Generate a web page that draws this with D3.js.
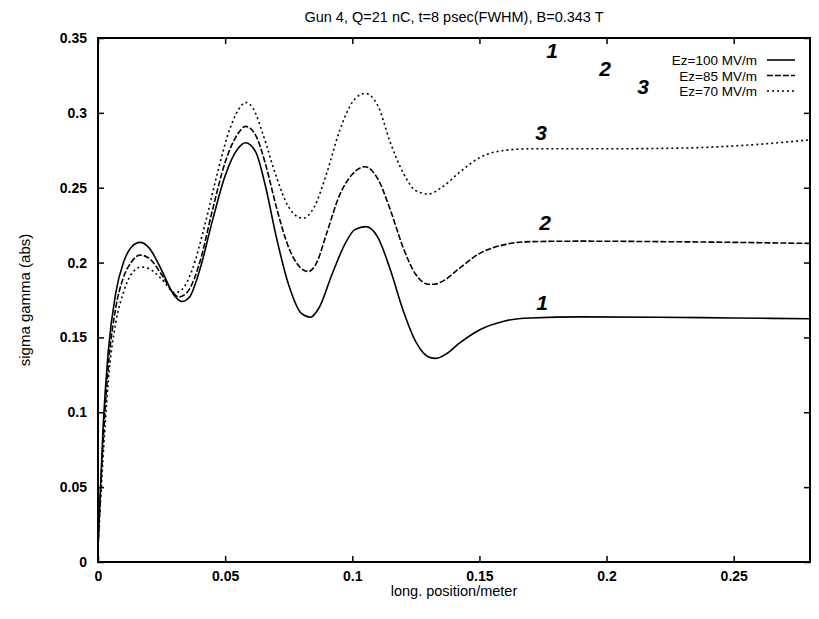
<!DOCTYPE html>
<html>
<head>
<meta charset="utf-8">
<script src="https://cdn.jsdelivr.net/npm/d3@7"></script>
<style>
  body { margin: 0; background: #fff; }
  text { font-family: "Liberation Sans", Arial, sans-serif; fill: #000; }
</style>
</head>
<body>
<div id="chart"></div>
<script>
// sigma gamma vs longitudinal position, three gradients
var xs100 = [0, 0.002, 0.004, 0.007, 0.01, 0.013, 0.0165, 0.02, 0.025, 0.03, 0.033, 0.036, 0.04, 0.045, 0.05, 0.055, 0.058, 0.062, 0.066, 0.07, 0.075, 0.08, 0.0835, 0.087, 0.092, 0.097, 0.101, 0.1055, 0.11, 0.115, 0.12, 0.125, 0.13, 0.133, 0.137, 0.142, 0.15, 0.16, 0.17, 0.19, 0.22, 0.25, 0.28];
var ys100 = [0.01, 0.09, 0.14, 0.18, 0.2, 0.21, 0.2135, 0.21, 0.195, 0.178, 0.174, 0.177, 0.195, 0.228, 0.258, 0.276, 0.28, 0.274, 0.25, 0.218, 0.185, 0.166, 0.1635, 0.17, 0.192, 0.212, 0.222, 0.224, 0.217, 0.195, 0.168, 0.147, 0.137, 0.136, 0.139, 0.146, 0.155, 0.161, 0.163, 0.1637, 0.1635, 0.163, 0.1625];

var xs85 = [0, 0.002, 0.004, 0.007, 0.01, 0.013, 0.0165, 0.02, 0.025, 0.03, 0.0316, 0.035, 0.04, 0.045, 0.05, 0.055, 0.058, 0.062, 0.066, 0.07, 0.075, 0.08, 0.0827, 0.086, 0.09, 0.095, 0.1, 0.105, 0.11, 0.115, 0.12, 0.125, 0.13, 0.132, 0.136, 0.142, 0.15, 0.16, 0.17, 0.19, 0.22, 0.25, 0.28];
var ys85 = [0.01, 0.08, 0.13, 0.17, 0.19, 0.2, 0.205, 0.203, 0.192, 0.179, 0.177, 0.18, 0.2, 0.235, 0.267, 0.286, 0.291, 0.285, 0.265, 0.238, 0.21, 0.196, 0.194, 0.2, 0.22, 0.245, 0.259, 0.264, 0.256, 0.235, 0.21, 0.192, 0.1855, 0.1855, 0.188, 0.196, 0.206, 0.212, 0.214, 0.2143, 0.214, 0.2135, 0.2128];

var xs70 = [0, 0.002, 0.004, 0.007, 0.01, 0.013, 0.017, 0.02, 0.025, 0.0303, 0.033, 0.037, 0.042, 0.047, 0.052, 0.056, 0.058, 0.061, 0.065, 0.07, 0.075, 0.0805, 0.085, 0.09, 0.095, 0.1, 0.105, 0.11, 0.115, 0.12, 0.125, 0.13, 0.135, 0.142, 0.15, 0.16, 0.17, 0.2, 0.23, 0.26, 0.28];
var ys70 = [0.01, 0.07, 0.12, 0.16, 0.18, 0.192, 0.197, 0.196, 0.189, 0.18, 0.182, 0.195, 0.225, 0.26, 0.29, 0.304, 0.307, 0.303, 0.285, 0.258, 0.237, 0.2296, 0.237, 0.26, 0.288, 0.307, 0.313, 0.305, 0.28, 0.26, 0.248, 0.2458, 0.25, 0.26, 0.27, 0.275, 0.276, 0.276, 0.2765, 0.279, 0.282];

var seriesNames = ["Ez=100 MV/m", "Ez=85 MV/m", "Ez=70 MV/m"];
var xTicks = [0, 0.05, 0.1, 0.15, 0.2, 0.25];
var yTicks = [0, 0.05, 0.1, 0.15, 0.2, 0.25, 0.3, 0.35];
var xTickLabels = ["0", "0.05", "0.1", "0.15", "0.2", "0.25"];
var yTickLabels = ["0", "0.05", "0.1", "0.15", "0.2", "0.25", "0.3", "0.35"];

var w = 819, h = 619;
var margin = {top: 38, right: 9, bottom: 57, left: 98};

var svg = d3.select("#chart").append("svg")
  .attr("width", w)
  .attr("height", h);

var x = d3.scaleLinear().domain([0, 0.28]).range([margin.left, w - margin.right]);
var y = d3.scaleLinear().domain([0, 0.35]).range([h - margin.bottom, margin.top]);

// frame with inward ticks on all sides (gnuplot style)
var tick = 6;
svg.append("g")
  .attr("transform", "translate(0," + y(0) + ")")
  .call(d3.axisBottom(x).tickValues(xTicks).tickSizeInner(-tick).tickSizeOuter(0)
    .tickFormat(function(d, i) { return xTickLabels[i]; }))
  .call(function(g) {
    g.select(".domain").remove();
    g.selectAll("text").attr("dy", "1.15em").style("font-size", "14px").style("font-weight", "bold");
  });
svg.append("g")
  .attr("transform", "translate(0," + y(0.35) + ")")
  .call(d3.axisTop(x).tickValues(xTicks).tickSizeInner(-tick).tickSizeOuter(0).tickFormat(""))
  .call(function(g) { g.select(".domain").remove(); });
svg.append("g")
  .attr("transform", "translate(" + x(0) + ",0)")
  .call(d3.axisLeft(y).tickValues(yTicks).tickSizeInner(-tick).tickSizeOuter(0)
    .tickFormat(function(d, i) { return yTickLabels[i]; }))
  .call(function(g) {
    g.select(".domain").remove();
    g.selectAll("text").attr("x", -11).style("font-size", "14px").style("font-weight", "bold");
  });
svg.append("g")
  .attr("transform", "translate(" + x(0.28) + ",0)")
  .call(d3.axisRight(y).tickValues(yTicks).tickSizeInner(-tick).tickSizeOuter(0).tickFormat(""))
  .call(function(g) { g.select(".domain").remove(); });

svg.selectAll(".tick line").attr("stroke", "#000").attr("stroke-width", 1.5);

svg.append("rect")
  .attr("x", x(0)).attr("y", y(0.35))
  .attr("width", x(0.28) - x(0)).attr("height", y(0) - y(0.35))
  .attr("fill", "none").attr("stroke", "#000").attr("stroke-width", 2);

// curves
var line = d3.line()
  .x(function(d) { return x(d[0]); })
  .y(function(d) { return y(d[1]); })
  .curve(d3.curveMonotoneX);

var dashes = [null, "6,2", "2,3"];
var data = [d3.zip(xs100, ys100), d3.zip(xs85, ys85), d3.zip(xs70, ys70)];

svg.selectAll("path.curve")
  .data(data)
  .enter()
  .append("path")
  .attr("class", "curve")
  .attr("d", line)
  .attr("fill", "none")
  .attr("stroke", "#000")
  .attr("stroke-width", 1.6)
  .attr("stroke-dasharray", function(d, i) { return dashes[i]; });

// legend
var legend = svg.append("g");
seriesNames.forEach(function(name, i) {
  var ly = 60 + i * 15.5;
  legend.append("text")
    .attr("x", 757).attr("y", ly + 5)
    .attr("text-anchor", "end")
    .style("font-size", "13.5px")
    .text(name);
  legend.append("line")
    .attr("x1", 767).attr("x2", 795)
    .attr("y1", ly).attr("y2", ly)
    .attr("stroke", "#000").attr("stroke-width", 1.6)
    .attr("stroke-dasharray", dashes[i]);
});

// titles
svg.append("text")
  .attr("x", (x(0) + x(0.28)) / 2).attr("y", 22)
  .attr("text-anchor", "middle")
  .style("font-size", "14.5px")
  .text("Gun 4, Q=21 nC, t=8 psec(FWHM), B=0.343 T");

svg.append("text")
  .attr("x", (x(0) + x(0.28)) / 2).attr("y", 596)
  .attr("text-anchor", "middle")
  .style("font-size", "14.5px")
  .text("long. position/meter");

svg.append("text")
  .attr("transform", "translate(30," + (y(0.175)) + ") rotate(-90)")
  .attr("text-anchor", "middle")
  .style("font-size", "15px")
  .text("sigma gamma (abs)");

// handwritten curve numbers
var marks = [
  {t: "3", x: 541, y: 140}, {t: "2", x: 545, y: 230}, {t: "1", x: 542, y: 310},
  {t: "1", x: 552, y: 58}, {t: "2", x: 605, y: 76}, {t: "3", x: 643, y: 94}
];
svg.selectAll("text.mark")
  .data(marks)
  .enter()
  .append("text")
  .attr("class", "mark")
  .attr("x", function(d) { return d.x; })
  .attr("y", function(d) { return d.y; })
  .attr("text-anchor", "middle")
  .style("font-size", "21px")
  .style("font-style", "italic")
  .style("font-weight", "bold")
  .text(function(d) { return d.t; });
</script>
</body>
</html>
